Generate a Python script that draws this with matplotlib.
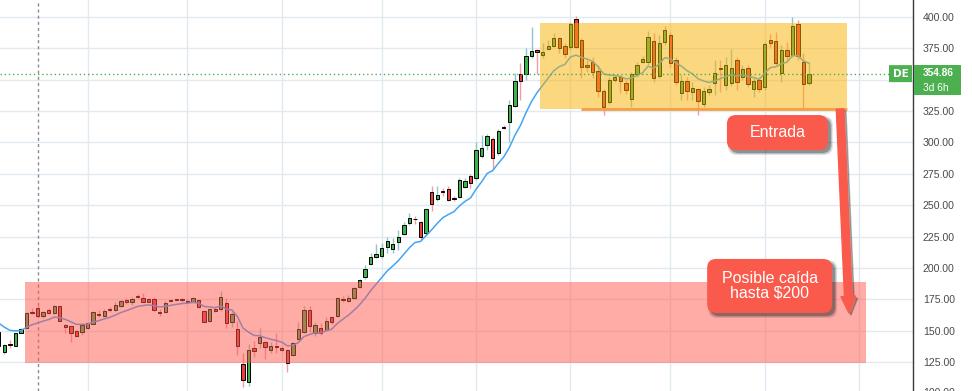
import matplotlib
matplotlib.use('Agg')
import numpy as np
import matplotlib.pyplot as plt
import matplotlib.transforms as mtransforms
from matplotlib.patches import FancyBboxPatch, Rectangle

# daily candles (open, high, low, close)
opens = [149, 132.7, 139.6, 138, 148.4, 152.4, 165, 167.8, 162, 166.5,
         164.3, 169.7, 154.5, 153.5, 149.7, 149.2, 152.4, 155.6, 163.3, 162,
         167.3, 166.5, 169.9, 174.4, 173.1, 177.3, 176.3, 175.2, 175.2, 164.8,
         164.6, 174.2, 174.9, 175, 173.8, 173.1, 174.4, 165.7, 158, 167.3,
         167, 171.8, 157.2, 151.3, 123.2, 109.3, 136.2, 140.4, 141, 134.6,
         137.8, 136.2, 134.6, 130.9, 143.4, 148.7, 166.5, 147.9, 151.9, 150.3,
         160.5, 162, 175.3, 174, 176.3, 184.5, 192.5, 203.1, 209, 209.5,
         216.4, 215.3, 220.9, 226.8, 235.5, 239.3, 236.3, 227.6, 260.2, 254.7,
         261.2, 262.9, 256, 256.8, 264.8, 273, 271.4, 289.2, 298, 302.8,
         291.3, 312.7, 316.1, 329.1, 354.8, 354.3, 368.7, 373.7, 370, 374.8,
         377.2, 383.3, 376.9, 376.4, 398.1, 381.7, 361.7, 363.9, 357, 341.3,
         332.5, 349.8, 351.9, 347.1, 334.4, 354.6, 363.9, 364.4, 380.9, 353.2,
         380.3, 385.7, 365.7, 339.7, 349, 340.5, 342.3, 330.4, 340, 347.1,
         359.1, 345.8, 347.1, 365.7, 352.4, 359.1, 342.3, 349.8, 343.9, 381.7,
         380.9, 355.6, 373.7, 369.7, 394.4, 364.4, 347.7]
highs = [150, 139.5, 142.5, 148.5, 152, 164.5, 167.8, 170.5, 166, 168,
         170.5, 170, 155, 154, 150.5, 155.8, 157, 165.5, 166.2, 167,
         169, 172.6, 174.5, 176, 176.5, 179, 179.8, 176, 177.1, 167.3,
         173.6, 175, 175.5, 176, 175, 177, 175, 166, 168, 168.5,
         181.6, 176.3, 165, 157.7, 131.9, 139.1, 141.8, 151.9, 142, 141.2,
         147.9, 138, 135.5, 141, 156.6, 169.9, 169.7, 157.2, 155.8, 160.9,
         161.5, 177, 177.5, 178.5, 184.5, 191.5, 202.3, 211.6, 219, 219.6,
         224.9, 223.6, 230.2, 236.9, 243.5, 241, 237.5, 248, 265.3, 265.3,
         264, 265.6, 257, 271.4, 272, 274.6, 300.1, 306, 306.5, 304.6,
         310.7, 314, 333.8, 355.1, 363.1, 375, 392.3, 374.5, 379, 381.7,
         387, 384.3, 379, 396.3, 400.8, 383, 366, 368.4, 361.7, 343,
         352, 353.5, 353.8, 349.8, 356.4, 364, 369, 389.1, 387, 385.7,
         393.1, 388.3, 368, 353.8, 352.5, 348.5, 343.5, 344, 345.8, 365.7,
         365.7, 368.4, 374.2, 368.4, 362, 361.7, 352.4, 352.4, 380, 386.5,
         388.3, 377.7, 380.4, 400.3, 397.6, 371, 364.4]
lows = [136, 131.5, 136, 137.5, 148, 152, 163, 161.2, 160, 163,
        163.5, 157.5, 148, 141.2, 145, 146.5, 151.5, 155, 160.9, 161,
        165, 166, 169, 171.5, 170.5, 175.8, 172.5, 172.5, 165.7, 162,
        164, 172.5, 173.5, 173, 172.5, 172, 168, 156.5, 157, 164.5,
        166, 152.4, 153, 130.6, 105.4, 106.2, 129.3, 136.4, 127.4, 131.9,
        131.9, 133, 117.3, 130, 142.5, 148, 149.2, 146, 146.5, 149.5,
        155, 161, 172.5, 173, 175.5, 184, 191.5, 202, 207.6, 208,
        212.1, 211.6, 214.3, 226, 234, 235, 222, 226, 245.6, 253,
        257.5, 253, 253, 255.5, 263.5, 263.4, 270, 287.3, 294, 278.9,
        290, 310.7, 300, 328, 333.9, 349.8, 367, 354.3, 367, 374,
        376, 371, 367, 374, 375, 351.1, 356, 351.1, 336.5, 321.9,
        331, 348, 339.7, 339, 328.5, 352.5, 363, 361.7, 348.5, 351.1,
        378, 360, 346, 333.8, 333.8, 333.8, 321.9, 328.5, 337.8, 337.8,
        340.5, 341.8, 345, 341.8, 350, 343.9, 336.5, 340.5, 341.8, 376.4,
        361.7, 348.5, 364.4, 368, 366, 325.9, 345.8]
closes = [137.5, 138.6, 138.8, 147.9, 151.3, 163.8, 164.4, 162, 164.6, 164.3,
          169.7, 158, 152.9, 148.4, 146, 154.5, 155.8, 164.6, 162.8, 165.7,
          166.2, 170.5, 173.6, 172.6, 175.2, 176.8, 173.1, 173.1, 166.7, 164.3,
          171.8, 173.6, 174.5, 174.4, 173, 175.8, 169.1, 157.2, 167.3, 165.4,
          176.6, 155.8, 163, 138.1, 110.4, 134.3, 134.1, 145.2, 137.2, 137.8,
          137.2, 134.9, 124.5, 139.9, 151.3, 166.5, 154, 154.2, 147.9, 157.7,
          157, 176, 174.7, 176.3, 183.7, 190.4, 199.1, 209, 211.1, 215.6,
          221.7, 219, 224.9, 234.2, 239.5, 238.7, 224.9, 246.7, 251.2, 258.1,
          260.6, 254.1, 254.8, 270.1, 269.3, 268, 294, 295.3, 305.2, 287.9,
          309.1, 311.9, 329.9, 349, 349.3, 369.2, 372.9, 371.8, 371.8, 376.9,
          383.3, 375.6, 370.2, 394.4, 376.4, 359.9, 360.4, 356.4, 341.3, 328.5,
          349.8, 351.9, 349.2, 341.8, 354.3, 361.7, 366.5, 383.8, 351.1, 379,
          389.6, 363.1, 348.5, 349, 341.3, 343.2, 333, 341, 342.3, 355.1,
          358.3, 361.7, 359.1, 348.5, 358.6, 346.3, 349, 342.3, 378.2, 379,
          363.6, 373.7, 369.2, 392.8, 368.9, 346.3, 354.86]

ma_period = 10
ma_seed = 160.0          # moving average level just left of the first candle

price_ticks = [125, 150, 175, 200, 225, 250, 275, 300, 325, 350, 375, 400]
hidden_tick = 350        # covered by the last-price label
month_starts = [16, 34, 51, 69, 86, 103, 121, 138, 155]
marker_day = 7

support_zone = [4.7, 156.3, 124.2, 188.8]     # x0, x1, low, high
range_zone = [97.5, 152.8, 326.6, 395.3]
entry_level = 326.6
entry_start = 105
last_price = 354.86
target_price = 164.0

GREEN = '#3cb44b'
RED = '#f23b3b'
TOMATO = '#fa5a4b'

x = np.arange(len(closes))
o = np.array(opens)
h = np.array(highs)
l = np.array(lows)
c = np.array(closes)
up = c >= o

# exponential moving average of the closes
ma = []
prev = ma_seed
alpha = 2.0 / (ma_period + 1)
for v in closes:
    prev = prev + alpha * (v - prev)
    ma.append(prev)

fig = plt.figure(figsize=(9.72, 3.91), dpi=100)
ax = fig.add_axes([0, 0, 913 / 972, 1])
x0, x1 = 0.225, 164.73
y0, y1 = 101.87, 413.55
ax.set_xlim(x0, x1)
ax.set_ylim(y0, y1)
xpp = (x1 - x0) / 913.0   # data units per pixel
ypp = (y1 - y0) / 391.0

# grid
ax.set_yticks(price_ticks)
ax.set_yticklabels(['' if t == hidden_tick else '%.2f' % t for t in price_ticks])
ax.set_xticks(month_starts)
ax.grid(color='#e1eaf0', linewidth=1, zorder=0)
ax.set_axisbelow(True)
ax.yaxis.tick_right()
ax.tick_params(axis='y', length=0, pad=7, labelsize=7.6, labelcolor='#4a4a4a')
ax.tick_params(axis='x', length=0, labelbottom=False)
for t in ax.get_yticklabels():
    t.set_fontfamily('Liberation Sans')
for s in ['top', 'left', 'bottom']:
    ax.spines[s].set_visible(False)
ax.spines['right'].set_color('#3a3a3a')
ax.spines['right'].set_linewidth(1)

ax.axvline(marker_day, color='#8a8d95', linestyle=(0, (2.2, 2.2)), linewidth=1, zorder=1)

# candles
ax.vlines(x[up], l[up], h[up], color='#93c4cb', linewidth=1, zorder=2)
ax.vlines(x[~up], l[~up], h[~up], color='#f49aa2', linewidth=1, zorder=2)
body = np.maximum(np.abs(c - o), 0.6)
ax.bar(x[up], body[up], bottom=np.minimum(o, c)[up], width=0.6, color=GREEN,
       edgecolor='black', linewidth=0.7, zorder=3)
ax.bar(x[~up], body[~up], bottom=np.minimum(o, c)[~up], width=0.6, color=RED,
       edgecolor='black', linewidth=0.7, zorder=3)

ax.plot(x, ma, color='#42a5f5', linewidth=1.1, zorder=4)

# zones
ax.add_patch(Rectangle((support_zone[0], support_zone[2]), support_zone[1] - support_zone[0],
                       support_zone[3] - support_zone[2], facecolor='#ff5a4f', alpha=0.5,
                       edgecolor='none', zorder=5))
ax.add_patch(Rectangle((range_zone[0], range_zone[2]), range_zone[1] - range_zone[0],
                       range_zone[3] - range_zone[2], facecolor='#f9b200', alpha=0.5,
                       edgecolor='none', zorder=5))
ax.hlines(entry_level, entry_start, range_zone[1], color='#f59e45', linewidth=2, zorder=6)

# last price line and labels
ax.axhline(last_price, xmax=889 / 913, color='#4caf50', linestyle=(0, (1, 2)), linewidth=1, zorder=6)
bt = mtransforms.blended_transform_factory(ax.transAxes, ax.transData)
ax.add_patch(FancyBboxPatch((889 / 913, last_price - 8.5 * ypp), 23 / 913, 17 * ypp,
                            boxstyle='round,pad=0,rounding_size=0.002', facecolor='#4caf50',
                            edgecolor='none', transform=bt, clip_on=False, zorder=7))
ax.text(900.5 / 913, last_price, 'DE', transform=bt, color='white', fontsize=7.5,
        fontweight='bold', ha='center', va='center', zorder=8, clip_on=False)
ax.add_patch(Rectangle((914 / 913, last_price - 21.7 * ypp), 47 / 913, 30 * ypp,
                       facecolor='#4caf50', edgecolor='none', transform=bt, clip_on=False, zorder=7))
ax.text(923 / 913, last_price + 1.0 * ypp, '%.2f' % last_price, transform=bt, color='white',
        fontsize=7.3, fontweight='bold', ha='left', va='center', family='Liberation Sans', clip_on=False, zorder=8)
ax.text(923 / 913, last_price - 14.8 * ypp, '3d 6h', transform=bt, color='white',
        fontsize=7.3, ha='left', va='center', family='Liberation Sans', clip_on=False, zorder=8)
ax.text(923 / 913, 100, '100.00', transform=bt, color='#4a4a4a', fontsize=7.6,
        ha='left', va='center', family='Liberation Sans', clip_on=False)


def callout(cx, cy, wpx, hpx, text):
    w, hh = wpx * xpp, hpx * ypp
    for i, a in enumerate([0.12, 0.18, 0.3]):
        grow = (2 - i) * 1.0
        ax.add_patch(FancyBboxPatch((cx - w / 2 + (3 - grow) * xpp, cy - hh / 2 - (3 + grow) * ypp),
                                    w + 2 * grow * xpp, hh + 2 * grow * ypp,
                                    boxstyle='round,pad=0,rounding_size=%f' % (9 * xpp),
                                    mutation_aspect=ypp / xpp, facecolor='#202020', alpha=a,
                                    edgecolor='none', zorder=9))
    ax.add_patch(FancyBboxPatch((cx - w / 2, cy - hh / 2), w, hh,
                                boxstyle='round,pad=0,rounding_size=%f' % (9 * xpp),
                                mutation_aspect=ypp / xpp, facecolor=TOMATO,
                                edgecolor='none', zorder=10))
    ax.text(cx, cy, text, color='white', fontsize=11.5, family='Liberation Sans',
            ha='center', va='center', linespacing=1.0, zorder=11)


# arrow from the range low down to the target
arrow_style = 'simple,head_length=1.2,head_width=1.05,tail_width=0.55'
ax.annotate('', xy=(153.2 + 2 * xpp, target_price - 2 * ypp), xytext=(151.6 + 2 * xpp, entry_level - 2 * ypp),
            arrowprops=dict(arrowstyle=arrow_style, mutation_scale=10, color='#303030',
                            alpha=0.35, shrinkA=0, shrinkB=0), zorder=9)
ax.annotate('', xy=(153.2, target_price), xytext=(151.6, entry_level),
            arrowprops=dict(arrowstyle=arrow_style, mutation_scale=10, color=TOMATO,
                            shrinkA=0, shrinkB=0), zorder=10)

callout(140.3, 307.9, 101, 35, 'Entrada')
callout(138.9, 185.6, 125, 54, 'Posible caída\nhasta $200')

plt.savefig('out.png', dpi=100)
